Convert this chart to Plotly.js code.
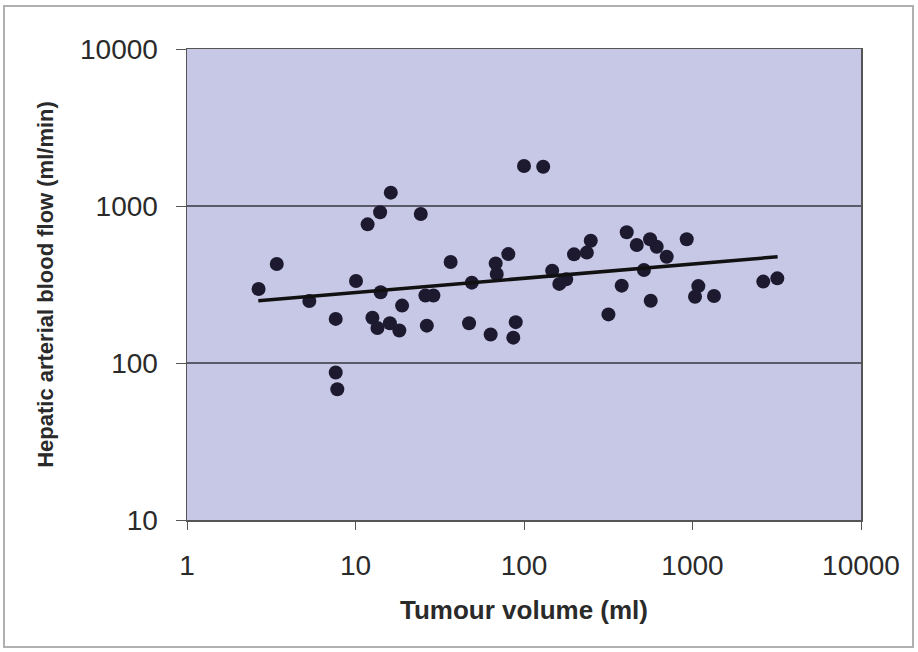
<!DOCTYPE html>
<html>
<head>
<meta charset="utf-8">
<script src="https://cdn.plot.ly/plotly-3.0.1.min.js"></script>
<style>html,body{margin:0;padding:0;background:#fff;}#chart{width:918px;height:652px;}</style>
</head>
<body>
<div id="chart"></div>
<script>
// Tumour volume (ml)
const tumourVolume = [2.66, 3.41, 5.32, 7.63, 7.63, 7.8, 10.07, 11.8, 12.6, 13.5, 14.0, 14.1, 16.0, 16.2, 18.2, 18.9,
  24.4, 26.5, 26, 29, 36.7, 47.2, 49, 63.4, 67.9, 68.9, 80.7, 86.4, 89.3, 100, 130, 147, 162, 178, 198, 236, 249,
  317, 380, 407, 467, 515, 560, 565, 613, 703, 924, 1035, 1083, 1342, 2630, 3187];
// Hepatic arterial blood flow (ml/min)
const bloodFlow = [296, 427, 248, 191, 87, 68, 333, 764, 194, 167, 912, 282, 179, 1216, 161, 232,
  889, 173, 269, 269, 440, 179, 325, 152, 431, 369, 494, 145, 182, 1798, 1780, 387, 319, 341, 492, 505, 601,
  204, 311, 680, 565, 391, 614, 249, 550, 475, 614, 264, 309, 267, 330, 346];
// Power trendline end points
const trendX = [2.65, 3200];
const trendY = [249, 475];

const xTickVals = [1, 10, 100, 1000, 10000];
const xTickText = ['1', '10', '100', '1000', '10000'];
const yTickVals = [10, 100, 1000, 10000];
const yTickText = ['10', '100', '1000', '10000'];

const font = 'Liberation Sans, Arial, sans-serif';

const traces = [
  {
    x: tumourVolume, y: bloodFlow, type: 'scatter', mode: 'markers',
    marker: {size: 14, color: '#1d1a30'}, showlegend: false, hoverinfo: 'x+y'
  },
  {
    x: trendX, y: trendY, type: 'scatter', mode: 'lines',
    line: {color: '#111', width: 3.5}, showlegend: false
  }
];

const layout = {
  width: 918, height: 652,
  margin: {l: 187, r: 57, t: 49, b: 132},
  paper_bgcolor: '#ffffff',
  plot_bgcolor: '#c7c7e6',
  font: {family: font, color: '#2a2a2a'},
  xaxis: {
    type: 'log', range: [0, 4],
    tickvals: xTickVals, ticktext: xTickText,
    tickfont: {size: 28, color: '#2a2a2a'},
    ticks: 'outside', ticklen: 8, tickcolor: '#555', tickwidth: 1,
    ticklabelstandoff: 12,
    showgrid: false, zeroline: false,
    showline: true, linecolor: '#555', linewidth: 1.5, mirror: true,
    title: {text: '<b>Tumour volume (ml)</b>', font: {size: 26, color: '#2a2a2a'}, standoff: 20}
  },
  yaxis: {
    type: 'log', range: [1, 4],
    tickvals: yTickVals, ticktext: yTickText,
    tickfont: {size: 28, color: '#2a2a2a'},
    ticks: 'outside', ticklen: 10, tickcolor: '#555', tickwidth: 1,
    ticklabelstandoff: 12,
    showgrid: true, gridcolor: '#5a5a6a', gridwidth: 1.2, zeroline: false,
    showline: true, linecolor: '#555', linewidth: 1.5, mirror: true,
    title: {text: '<b>Hepatic arterial blood flow (ml/min)</b>', font: {size: 22, color: '#2a2a2a'}, standoff: 20}
  },
  shapes: [
    {type: 'rect', xref: 'paper', yref: 'paper',
     x0: (4 - 187) / 674, x1: (913 - 187) / 674, y0: (520 - 647) / 471, y1: (520 - 6) / 471,
     line: {color: '#b0b0b0', width: 2}, fillcolor: 'rgba(0,0,0,0)', layer: 'below'}
  ]
};

Plotly.newPlot('chart', traces, layout, {displayModeBar: false, staticPlot: true});
</script>
</body>
</html>
